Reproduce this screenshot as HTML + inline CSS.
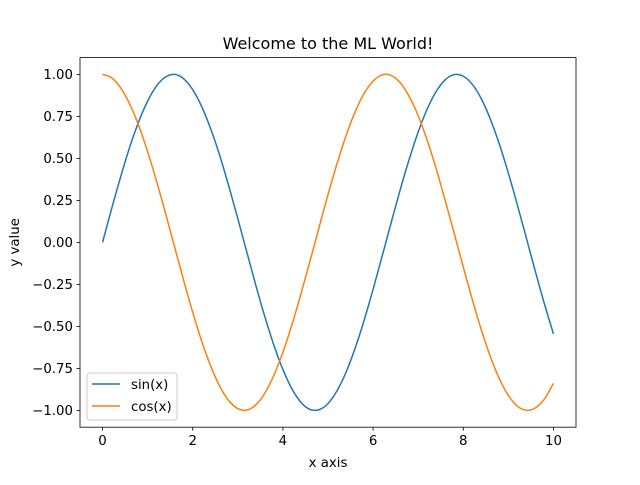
<!DOCTYPE html>
<html><head><meta charset="utf-8"><style>
html,body{margin:0;padding:0;background:#fff;}
svg text{font-family:"DejaVu Sans","Liberation Sans",sans-serif;fill:#000;}
</style></head><body>
<svg id="chart" width="640" height="480" xmlns="http://www.w3.org/2000/svg">
<rect width="640" height="480" fill="#fff"/>
<text x="328" y="49" font-size="16" text-anchor="middle">Welcome to the ML World!</text>
<g id="plot"></g>
<rect x="80" y="57.6" width="496" height="369.6" fill="none" stroke="#000" stroke-width="0.8"/>
<text x="328" y="467" font-size="13.33" text-anchor="middle">x axis</text>
<text transform="translate(19,242.4) rotate(-90)" font-size="13.33" text-anchor="middle">y value</text>
<g>
<rect x="87" y="373" width="90" height="47" rx="3" fill="#fff" fill-opacity="0.8" stroke="#ccc" stroke-width="1"/>
<line x1="92" y1="384" x2="120" y2="384" stroke="#1f77b4" stroke-width="1.5"/>
<text x="131" y="389" font-size="13.33">sin(x)</text>
<line x1="92" y1="406" x2="120" y2="406" stroke="#ff7f0e" stroke-width="1.5"/>
<text x="131" y="411" font-size="13.33">cos(x)</text>
</g>
</svg>
<script>
const xValues=[0,0.2,0.4,0.6,0.8,1,1.2,1.4,1.6,1.8,2,2.2,2.4,2.6,2.8,3,3.2,3.4,3.6,3.8,4,4.2,4.4,4.6,4.8,5,5.2,5.4,5.6,5.8,6,6.2,6.4,6.6,6.8,7,7.2,7.4,7.6,7.8,8,8.2,8.4,8.6,8.8,9,9.2,9.4,9.6,9.8,10];
const sinValues=[0,0.199,0.389,0.565,0.717,0.841,0.932,0.985,1.000,0.974,0.909,0.808,0.675,0.516,0.335,0.141,-0.058,-0.256,-0.443,-0.612,-0.757,-0.872,-0.952,-0.994,-0.996,-0.959,-0.883,-0.773,-0.631,-0.465,-0.279,-0.083,0.117,0.312,0.494,0.657,0.794,0.899,0.968,0.999,0.989,0.941,0.855,0.734,0.585,0.412,0.223,0.025,-0.174,-0.366,-0.544];
const cosValues=[1,0.980,0.921,0.825,0.697,0.540,0.362,0.170,-0.029,-0.227,-0.416,-0.589,-0.737,-0.857,-0.942,-0.990,-0.998,-0.967,-0.897,-0.791,-0.654,-0.490,-0.307,-0.112,0.087,0.284,0.469,0.635,0.776,0.886,0.960,0.997,0.994,0.951,0.869,0.754,0.608,0.438,0.248,0.053,-0.146,-0.340,-0.519,-0.679,-0.811,-0.911,-0.975,-0.999,-0.985,-0.932,-0.839];
const xTicks=[0,2,4,6,8,10];
const yTicks=[-1,-0.75,-0.5,-0.25,0,0.25,0.5,0.75,1];
const yTickLabels=["−1.00","−0.75","−0.50","−0.25","0.00","0.25","0.50","0.75","1.00"];

const NS="http://www.w3.org/2000/svg";
const L=80,R=576,T=57.6,B=427.2;
const xMin=-0.5,xMax=10.5,yMin=-1.1,yMax=1.1;
function sx(v){return L+(v-xMin)/(xMax-xMin)*(R-L);}
function sy(v){return B-(v-yMin)/(yMax-yMin)*(B-T);}
const plot=document.getElementById('plot');
function mk(tag,attrs){const e=document.createElementNS(NS,tag);for(const k in attrs)e.setAttribute(k,attrs[k]);plot.appendChild(e);return e;}

xTicks.forEach(t=>{
  const x=sx(t);
  const tk=mk('line',{x1:x,y1:B,x2:x,y2:B+3.5,stroke:'#000','stroke-width':0.8});
  
  
  const lb=mk('text',{x:x,y:B+18,'font-size':13.33,'text-anchor':'middle'});
  lb.textContent=String(t);
  
  
});
yTicks.forEach((t,i)=>{
  const y=sy(t);
  const tk=mk('line',{x1:L-3.5,y1:y,x2:L,y2:y,stroke:'#000','stroke-width':0.8});
  
  
  const lb=mk('text',{x:L-7,y:y+4.8,'font-size':13.33,'text-anchor':'end'});
  lb.textContent=yTickLabels[i];
  
  
});
function smoothPath(xs,ys){
  const p=xs.map((x,i)=>[sx(x),sy(ys[i])]);
  let d='M'+p[0][0]+','+p[0][1];
  for(let i=0;i<p.length-1;i++){
    const p0=p[Math.max(0,i-1)],p1=p[i],p2=p[i+1],p3=p[Math.min(p.length-1,i+2)];
    const c1x=p1[0]+(p2[0]-p0[0])/6,c1y=p1[1]+(p2[1]-p0[1])/6;
    const c2x=p2[0]-(p3[0]-p1[0])/6,c2y=p2[1]-(p3[1]-p1[1])/6;
    d+=' C'+c1x+','+c1y+' '+c2x+','+c2y+' '+p2[0]+','+p2[1];
  }
  return d;
}
const s=mk('path',{d:smoothPath(xValues,sinValues),fill:'none',stroke:'#1f77b4','stroke-width':1.5});


const c=mk('path',{d:smoothPath(xValues,cosValues),fill:'none',stroke:'#ff7f0e','stroke-width':1.5});


</script>
</body></html>
